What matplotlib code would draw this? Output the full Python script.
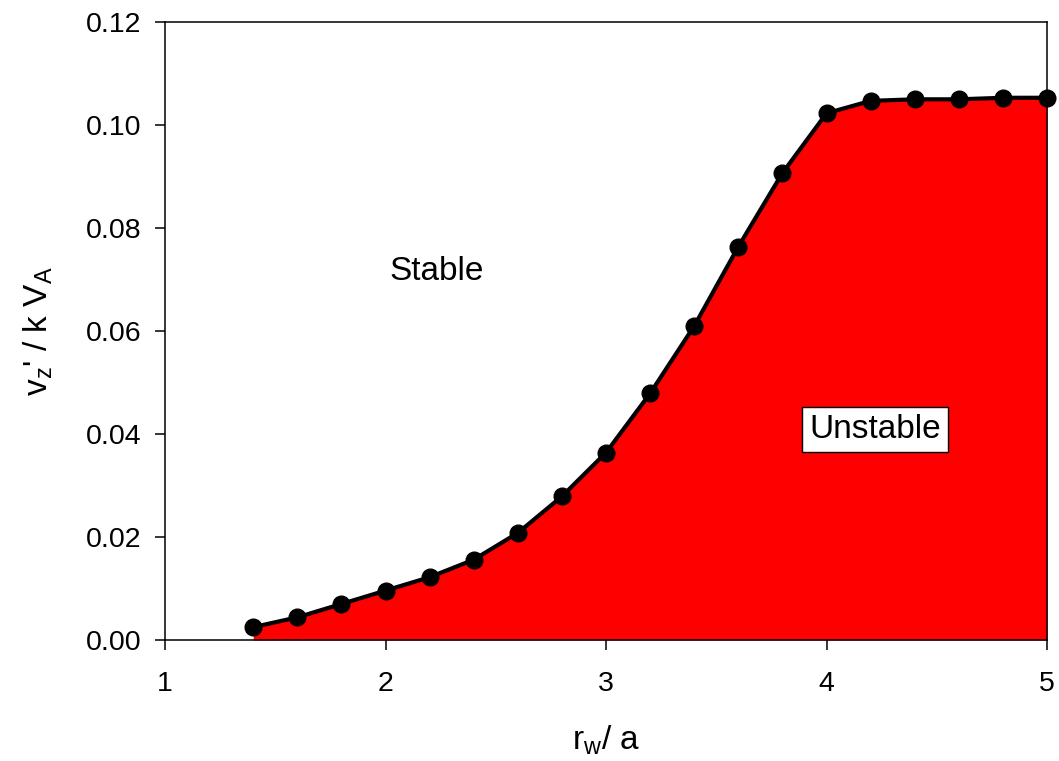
import matplotlib
matplotlib.use("Agg")
import matplotlib.pyplot as plt

plt.rcParams['font.family'] = ['Liberation Sans', 'DejaVu Sans']
plt.rcParams['mathtext.fontset'] = 'custom'
plt.rcParams['mathtext.rm'] = 'Liberation Sans'

# wall radius ratio vs threshold shear
rw_over_a = [1.4, 1.6, 1.8, 2.0, 2.2, 2.4, 2.6, 2.8, 3.0, 3.2,
             3.4, 3.6, 3.8, 4.0, 4.2, 4.4, 4.6, 4.8, 5.0]
vz_threshold = [0.0025, 0.0044, 0.0070, 0.0096, 0.0122, 0.0156, 0.0208, 0.0279,
                0.0364, 0.0479, 0.0610, 0.0764, 0.0907, 0.1023, 0.1047,
                0.1050, 0.1050, 0.1053, 0.1053]

fig = plt.figure(figsize=(10.59, 7.61), dpi=100)
ax = fig.add_axes([0.1558, 0.159, 0.833, 0.812])

ax.fill_between(rw_over_a, vz_threshold, 0, color='#ff0000', linewidth=0)
ax.plot(rw_over_a, vz_threshold, color='black', linewidth=3,
        marker='o', markersize=12, clip_on=False, zorder=5)

ax.set_xlim(1, 5)
ax.set_ylim(0, 0.12)
ax.set_xticks([1, 2, 3, 4, 5])
ax.set_yticks([0.00, 0.02, 0.04, 0.06, 0.08, 0.10, 0.12])
ax.set_yticklabels([f"{v:.2f}" for v in ax.get_yticks()])
ax.tick_params(direction='out', length=7, width=1.1, labelsize=20.5,
               top=False, right=False)
ax.tick_params(axis='x', pad=15)
ax.tick_params(axis='y', pad=10)
for s in ax.spines.values():
    s.set_linewidth(1.1)

ax.set_xlabel(r"r$_\mathregular{w}$/ a", fontsize=24, labelpad=19)
ax.set_ylabel(r"v$_\mathregular{z}$' / k V$_\mathregular{A}$", fontsize=24, labelpad=22)

ax.text(2.23, 0.0715, "Stable", fontsize=24, ha='center', va='center')
ax.text(4.22, 0.0408, "Unstable", fontsize=24, ha='center', va='center',
        bbox=dict(facecolor='white', edgecolor='black', linewidth=1, pad=5))

fig.savefig("out.png", dpi=100)
